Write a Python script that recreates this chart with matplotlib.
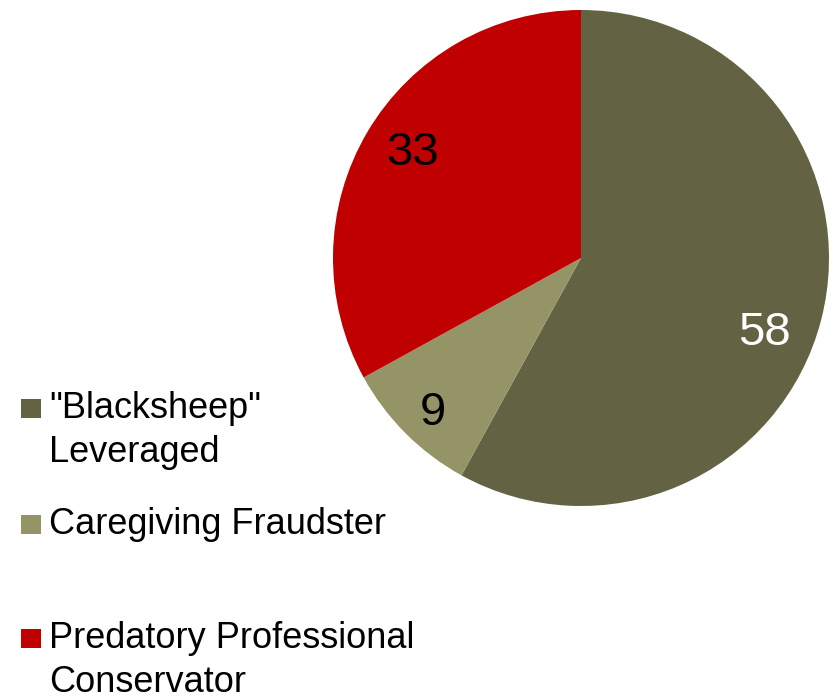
import numpy as np
import matplotlib
matplotlib.use("Agg")
import matplotlib.pyplot as plt
from matplotlib.patches import Rectangle

plt.rcParams["font.family"] = ["Liberation Sans", "DejaVu Sans"]

# Data
categories = ['"Blacksheep"\nLeveraged', "Caregiving Fraudster", "Predatory Professional\nConservator"]
values = [58, 9, 33]
colors = ["#636344", "#949467", "#C00000"]
label_colors = ["white", "black", "black"]
label_dist = [0.79, 0.85, 0.81]
label_shift = [-6.5, 0.5, -2.5]  # degrees, nudges off the wedge mid-angle

W, H = 835, 697
fig = plt.figure(figsize=(W / 100, H / 100), dpi=100)

# pie axes: centre (581, 258), radius 248 px
cx, cy, r = 581, 258, 248
ax = fig.add_axes([(cx - r) / W, (H - cy - r) / H, 2 * r / W, 2 * r / H])
wedges, _ = ax.pie(values, colors=colors, startangle=90, counterclock=False,
                   wedgeprops=dict(linewidth=0))
ax.set_xlim(-1, 1)
ax.set_ylim(-1, 1)
ax.set_aspect("equal")
ax.axis("off")

for w, v, c, d, s in zip(wedges, values, label_colors, label_dist, label_shift):
    ang = np.deg2rad((w.theta1 + w.theta2) / 2 + s)
    ax.text(d * np.cos(ang), d * np.sin(ang), str(v), color=c, fontsize=34,
            ha="center", va="center_baseline")

# legend drawn by hand to keep the uneven spacing of the original
first_baselines = [418, 534, 648]
line_step = 44
for lab, col, base in zip(categories, colors, first_baselines):
    fig.patches.append(Rectangle((21 / W, (H - base) / H), 20 / W, 19 / H,
                                 transform=fig.transFigure, facecolor=col,
                                 edgecolor="none"))
    for i, line in enumerate(lab.split("\n")):
        fig.text(49 / W, (H - base - i * line_step) / H, line, fontsize=26,
                 ha="left", va="baseline", color="black")

fig.savefig("out.png", dpi=100)
